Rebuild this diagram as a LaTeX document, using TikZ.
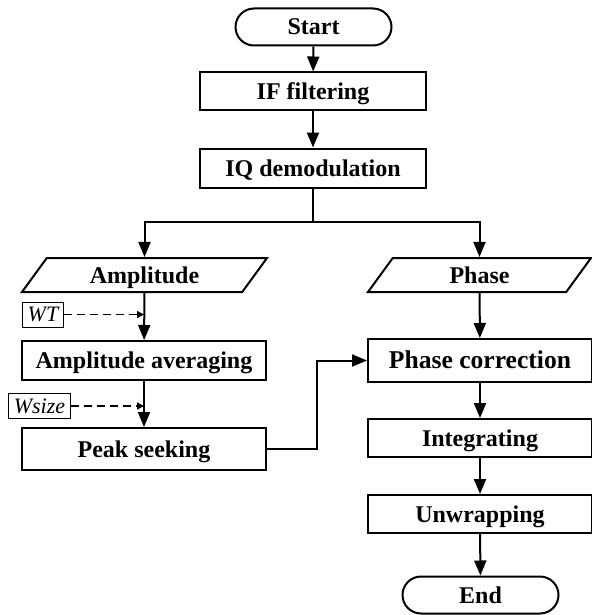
\documentclass[tikz,border=0pt]{standalone}
\usepackage{fontspec}
\setmainfont{Liberation Serif}
\usetikzlibrary{shapes.geometric,shapes.misc,arrows.meta}

\begin{document}
\begin{tikzpicture}[x=1pt,y=-1pt]

	\tikzstyle{terminal} = [rounded rectangle,draw=black,line width=2pt,minimum width=156pt,minimum height=37pt,inner sep=0pt,text height=17pt,text depth=1pt,font=\fontsize{24}{28}\selectfont\bfseries]
	\tikzstyle{process} = [rectangle,draw=black,line width=2pt,inner sep=0pt,text height=17pt,text depth=1pt,font=\fontsize{24}{28}\selectfont\bfseries]
	\tikzstyle{data} = [trapezium,trapezium left angle=36,trapezium right angle=144,trapezium stretches body,draw=black,line width=2pt,minimum height=34pt,inner sep=0pt,text height=17pt,text depth=1pt,font=\fontsize{24}{28}\selectfont\bfseries]
	\tikzstyle{param} = [rectangle,draw=black,line width=0.9pt,minimum height=25pt,inner xsep=5pt,inner ysep=1pt,font=\fontsize{22}{26}\selectfont\itshape]
	\tikzstyle{flow} = [-{Triangle[length=15pt,width=12pt]},line width=2pt]
	\tikzstyle{paramflow} = [-{Triangle[length=7pt,width=7pt]},line width=1.6pt,dash pattern=on 8pt off 5pt]

	\useasboundingbox (0,0) rectangle (591,615);

	\node[terminal] (start)	at (313.5,27)	{Start};
	\node[process,minimum width=226pt,minimum height=38pt] (if)	at (313,91.5)	{IF filtering};
	\node[process,minimum width=226pt,minimum height=39pt] (iq)	at (313,168)	{IQ demodulation};
	\coordinate (split) at (313,222);

	\node[data,minimum width=245pt] (amp)	at (144.5,275)	{Amplitude};
	\node[data,minimum width=223pt] (phase)	at (479.5,275)	{Phase};

	\node[param] (wt)	at (43,314.5)	{WT};
	\node[process,minimum width=244pt,minimum height=39pt] (avg)	at (144,360.5)	{Amplitude averaging};
	\node[param] (wsize)	at (39.5,406)	{Wsize};
	\node[process,minimum width=244pt,minimum height=42pt] (peak)	at (144,449)	{Peak seeking};

	\node[process,minimum width=224pt,minimum height=43pt,font=\fontsize{25.6}{30}\selectfont\bfseries] (corr)	at (480,360.5)	{Phase correction};
	\node[process,minimum width=224pt,minimum height=38pt] (integ)	at (480,438)	{Integrating};
	\node[process,minimum width=224pt,minimum height=38pt] (unwrap)	at (480,514)	{Unwrapping};
	\node[terminal] (end)	at (480.5,595)	{End};

	\draw[flow] (start) -- (if);
	\draw[flow] (if) -- (iq);
	\draw[line width=2pt] (iq.south) -- (split);
	\draw[flow] (split) -| (amp.north);
	\draw[flow] (split) -| (phase.north);

	\draw[flow] (amp) -- (avg);
	\draw[flow] (avg) -- (peak);
	\draw[paramflow] (wt.east) -- (wt.east -| avg.north);
	\draw[paramflow] (wsize.east) -- (wsize.east -| peak.north);

	\draw[flow] (phase) -- (corr);
	\draw[flow] (peak.east) -- ++(50,0) |- (corr.west);
	\draw[flow] (corr) -- (integ);
	\draw[flow] (integ) -- (unwrap);
	\draw[flow] (unwrap) -- (end);

\end{tikzpicture}
\end{document}
